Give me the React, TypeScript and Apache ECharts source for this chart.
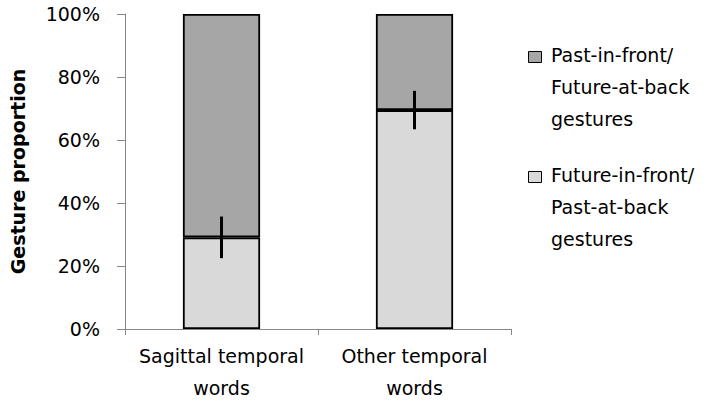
import React, { useEffect, useRef } from "react";
import * as echarts from "echarts";

const categories = ["Sagittal temporal\nwords", "Other temporal\nwords"];
const futureInFront = [29.1, 69.5];
const pastInFront = [70.9, 30.5];
const errors = [6.6, 6.1];
const yTicks = [0, 20, 40, 60, 80, 100];
const legendItems = [
  { name: "Past-in-front/\nFuture-at-back\ngestures", color: "#A6A6A6" },
  { name: "Future-in-front/\nPast-at-back\ngestures", color: "#D9D9D9" },
];

const FONT = "'DejaVu Sans', sans-serif";

export default function App() {
  const ref = useRef<HTMLDivElement>(null);
  useEffect(() => {
    if (!ref.current) return;
    const chart = echarts.init(ref.current, undefined, { renderer: "svg" });
    const errData = futureInFront.map((v, i) => [i, v, errors[i]]);
    chart.setOption({
      animation: false,
      textStyle: { fontFamily: FONT },
      grid: { left: 123, top: 14, right: 212, bottom: 82 },
      xAxis: {
        type: "category",
        data: categories,
        z: 5,
        axisLine: { lineStyle: { color: "#868686", width: 1 } },
        axisTick: { show: true, length: 6, inside: false, lineStyle: { color: "#868686" } },
        axisLabel: {
          color: "#000",
          fontSize: 19,
          fontFamily: FONT,
          lineHeight: 32,
          margin: 11,
          interval: 0,
        },
      },
      yAxis: {
        type: "value",
        min: yTicks[0],
        max: yTicks[yTicks.length - 1],
        interval: 20,
        name: "Gesture proportion",
        nameLocation: "middle",
        nameGap: 98,
        nameRotate: 90,
        nameTextStyle: { color: "#000", fontSize: 19, fontWeight: "bold", fontFamily: FONT },
        splitLine: { show: false },
        axisLine: { show: true, lineStyle: { color: "#868686", width: 1 } },
        axisTick: { show: true, length: 8, lineStyle: { color: "#868686" } },
        axisLabel: {
          color: "#000",
          fontSize: 19,
          fontFamily: FONT,
          margin: 25,
          formatter: (v: number) => v + "%",
        },
      },
      series: [
        {
          name: "Future-in-front/Past-at-back gestures",
          type: "bar",
          stack: "s",
          barWidth: "40%",
          data: futureInFront,
          itemStyle: { color: "#D9D9D9", borderColor: "#000", borderWidth: 1.8 },
        },
        {
          name: "Past-in-front/Future-at-back gestures",
          type: "bar",
          stack: "s",
          barWidth: "40%",
          data: pastInFront,
          itemStyle: { color: "#A6A6A6", borderColor: "#000", borderWidth: 1.8 },
        },
        {
          type: "custom",
          data: errData,
          z: 10,
          renderItem: (params: any, api: any) => {
            const x = api.value(0);
            const y = api.value(1);
            const e = api.value(2);
            const top = api.coord([x, y + e]);
            const bot = api.coord([x, y - e]);
            return {
              type: "line",
              shape: { x1: top[0], y1: top[1], x2: bot[0], y2: bot[1] },
              style: { stroke: "#000", lineWidth: 3 },
            };
          },
        },
      ],
      graphic: legendItems.flatMap((it, i) => {
        const center = 55 + i * 120;
        return [
          {
            type: "rect",
            left: 528,
            top: center - 4,
            shape: { width: 13, height: 11 },
            style: { fill: it.color, stroke: "#000", lineWidth: 1 },
          },
          {
            type: "text",
            left: 551,
            top: center - 16,
            style: {
              text: it.name,
              font: `19px ${FONT}`,
              fill: "#000",
              lineHeight: 32,
            },
          },
        ];
      }),
    });
    return () => chart.dispose();
  }, []);
  return <div ref={ref} style={{ width: 723, height: 411, position: "absolute", left: 0, top: 0 }} />;
}
